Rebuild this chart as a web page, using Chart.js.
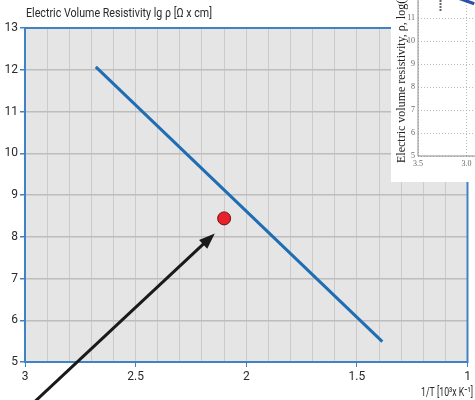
<!DOCTYPE html>
<html><head><meta charset="utf-8">
<script src="https://cdn.jsdelivr.net/npm/chart.js@4/dist/chart.umd.min.js"></script>
<style>
html,body{margin:0;padding:0;background:#fff;width:475px;height:400px;overflow:hidden;position:relative}
#main{position:absolute;left:0;top:0}
#inset{position:absolute;left:391px;top:-40px;background:#fff}
</style></head><body>
<canvas id="main" width="475" height="400"></canvas>
<canvas id="inset" width="132" height="222"></canvas>
<script>
// ---- data (main chart) ----
const titleText = 'Electric Volume Resistivity lg \u03C1 [\u03A9 x cm]';
const xAxisText = '1/T [10\u00B3x K\u207B\u00B9]';
const xTickLabels = [3, 2.5, 2, 1.5, 1];
const yTickLabels = [5, 6, 7, 8, 9, 10, 11, 12, 13];
const lineX = [2.68, 1.385];
const lineY = [12.07, 5.49];
const pointX = [2.10];
const pointY = [8.44];
const arrowTail = [2.966, 4.0];
const arrowTip = [2.142, 8.08];
// ---- data (inset fragment) ----
const insetTitle = 'Electric volume resistivity, \u03C1, log(\u03A9\u00B7cm)';
const insetXTicks = [3.5, 3.0, 2.5];
const insetYTicks = [5, 6, 7, 8, 9, 10, 11, 12, 13];
const insetBlueX = [3.08, 2.92];
const insetBlueY = [11.86, 11.62];
const insetDotX = [3.268, 3.268];
const insetDotY = [11.32, 12.0];

const BLUE_AXIS = '#3f83c5';
const near = (a, b) => Math.abs(a - b) < 1e-6;
const isMajorX = v => xTickLabels.some(t => near(t, v));

const mainPlugin = {
  id: 'mainDeco',
  beforeDraw(chart) {
    const {ctx, chartArea: a} = chart;
    ctx.save();
    ctx.fillStyle = '#e5e5e5';
    ctx.fillRect(a.left, a.top, a.right - a.left, a.bottom - a.top);
    ctx.restore();
  },
  afterDraw(chart) {
    const {ctx, chartArea: a, scales} = chart;
    ctx.save();
    // frame
    ctx.strokeStyle = BLUE_AXIS; ctx.lineWidth = 2;
    ctx.strokeRect(a.left, a.top, a.right - a.left, a.bottom - a.top);
    // arrow
    const x0 = scales.x.getPixelForValue(arrowTail[0]), y0 = scales.y.getPixelForValue(arrowTail[1]);
    const x1 = scales.x.getPixelForValue(arrowTip[0]), y1 = scales.y.getPixelForValue(arrowTip[1]);
    const ang = Math.atan2(y1 - y0, x1 - x0);
    const hl = 16, hw = 6;
    const bx = x1 - hl * Math.cos(ang), by = y1 - hl * Math.sin(ang);
    ctx.strokeStyle = '#1a1a1a'; ctx.fillStyle = '#1a1a1a'; ctx.lineWidth = 3;
    ctx.beginPath(); ctx.moveTo(x0, y0); ctx.lineTo(bx + 2 * Math.cos(ang), by + 2 * Math.sin(ang)); ctx.stroke();
    ctx.beginPath();
    ctx.moveTo(x1, y1);
    ctx.lineTo(bx + hw * Math.sin(ang), by - hw * Math.cos(ang));
    ctx.lineTo(bx - hw * Math.sin(ang), by + hw * Math.cos(ang));
    ctx.closePath(); ctx.fill();
    // texts
    ctx.fillStyle = '#2a2a2a';
    ctx.font = '13px Roboto, "Noto Sans", sans-serif';
    ctx.textAlign = 'left'; ctx.textBaseline = 'alphabetic';
    ctx.fillText(titleText, 26, 17, 186);
    ctx.textAlign = 'right';
    ctx.fillText(xAxisText, 473, 396, 52);
    ctx.restore();
  }
};

new Chart(document.getElementById('main'), {
  type: 'scatter',
  data: { datasets: [
    { type: 'line', data: lineX.map((x, i) => ({x, y: lineY[i]})), borderColor: '#1f6db3', borderWidth: 3,
      pointRadius: 0, fill: false, borderCapStyle: 'butt' },
    { data: pointX.map((x, i) => ({x, y: pointY[i]})), backgroundColor: '#e8212a', borderColor: '#6b1212',
      borderWidth: 1, pointRadius: 6.5 }
  ]},
  options: {
    responsive: false, animation: false, devicePixelRatio: 1,
    layout: { padding: { top: 28, right: 3, left: 0, bottom: 0 } },
    plugins: { legend: { display: false }, tooltip: { enabled: false } },
    scales: {
      x: {
        type: 'linear', reverse: true, min: 1, max: 3,
        afterFit: s => { s.height = 38; },
        ticks: { stepSize: 0.1, autoSkip: false, maxRotation: 0, padding: 3, color: '#2a2a2a',
          font: { family: 'Roboto', size: 12 },
          callback: v => { const t = xTickLabels.find(t => near(t, v)); return t === undefined ? '' : String(t); } },
        grid: { color: '#cbcbcb', lineWidth: 1, tickLength: 5,
          tickColor: c => (c.tick && isMajorX(c.tick.value)) ? BLUE_AXIS : 'rgba(0,0,0,0)' },
        border: { display: false }
      },
      y: {
        min: 5, max: 13,
        afterFit: s => { s.width = 25; },
        ticks: { stepSize: 1, padding: 2, color: '#2a2a2a', font: { family: 'Roboto', size: 12 },
          callback: v => { const t = yTickLabels.find(t => near(t, v)); return t === undefined ? '' : String(t); } },
        grid: { color: '#bdbdbd', lineWidth: 1.5, tickLength: 5, tickColor: BLUE_AXIS },
        border: { display: false }
      }
    }
  },
  plugins: [mainPlugin]
});

const insetPlugin = {
  id: 'insetDeco',
  afterDraw(chart) {
    const {ctx, chartArea: a} = chart;
    ctx.save();
    ctx.strokeStyle = '#8a8a8a'; ctx.lineWidth = 1;
    ctx.beginPath(); ctx.moveTo(a.left, a.top); ctx.lineTo(a.left, a.bottom); ctx.lineTo(a.right, a.bottom); ctx.stroke();
    ctx.translate(14, 203);
    ctx.rotate(-Math.PI / 2);
    ctx.fillStyle = '#222';
    ctx.font = '12px "Liberation Serif", "DejaVu Serif", serif';
    ctx.textAlign = 'left'; ctx.textBaseline = 'alphabetic';
    ctx.fillText(insetTitle, 0, 0);
    ctx.restore();
  }
};

new Chart(document.getElementById('inset'), {
  type: 'scatter',
  data: { datasets: [
    { type: 'line', data: insetBlueX.map((x, i) => ({x, y: insetBlueY[i]})), borderColor: '#2d4fae', borderWidth: 3, pointRadius: 0, fill: false },
    { type: 'line', data: insetDotX.map((x, i) => ({x, y: insetDotY[i]})), borderColor: '#333', borderWidth: 2, borderDash: [1.5, 1.5], pointRadius: 0, fill: false }
  ]},
  options: {
    responsive: false, animation: false, devicePixelRatio: 1,
    layout: { padding: { top: 12, right: 6, left: 0, bottom: 0 } },
    plugins: { legend: { display: false }, tooltip: { enabled: false } },
    scales: {
      x: {
        type: 'linear', reverse: true, min: 2.5, max: 3.5,
        afterFit: s => { s.height = 26; },
        ticks: { stepSize: 0.5, autoSkip: false, maxRotation: 0, padding: 3, color: '#666',
          font: { family: 'Liberation Serif', size: 8 },
          callback: v => { const t = insetXTicks.find(t => near(t, v)); return t === undefined ? '' : t.toFixed(1); } },
        grid: { color: '#a8a8a8', lineWidth: 0.8, drawTicks: false },
        border: { display: false, dash: [1, 2] }
      },
      y: {
        min: 5, max: 13,
        afterFit: s => { s.width = 27; },
        ticks: { stepSize: 1, padding: 3, color: '#666', font: { family: 'Liberation Serif', size: 8 },
          callback: v => { const t = insetYTicks.find(t => near(t, v)); return t === undefined ? '' : String(t); } },
        grid: { color: '#a8a8a8', lineWidth: 0.8, drawTicks: false },
        border: { display: false, dash: [1, 2] }
      }
    }
  },
  plugins: [insetPlugin]
});
</script>
</body></html>
